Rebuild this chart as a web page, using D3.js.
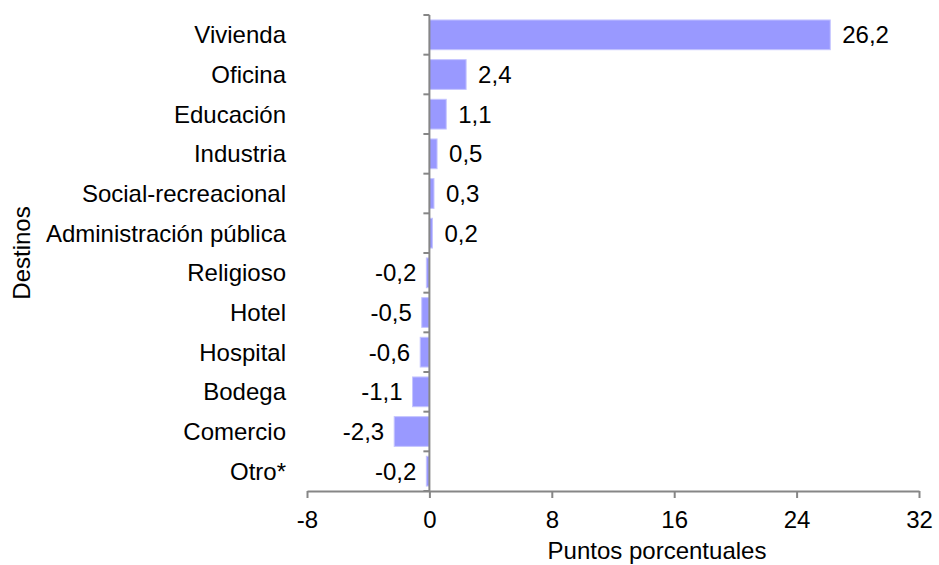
<!DOCTYPE html>
<html>
<head>
<meta charset="utf-8">
<script src="https://cdn.jsdelivr.net/npm/d3@7"></script>
<style>
  html, body { margin: 0; padding: 0; background: #fff; }
  svg { display: block; font-family: "Liberation Sans", Arial, sans-serif; }
</style>
</head>
<body>
<svg id="chart" width="939" height="565"></svg>
<script>
const categories = ["Vivienda", "Oficina", "Educación", "Industria", "Social-recreacional",
  "Administración pública", "Religioso", "Hotel", "Hospital", "Bodega", "Comercio", "Otro*"];
const values = [26.2, 2.4, 1.1, 0.5, 0.3, 0.2, -0.2, -0.5, -0.6, -1.1, -2.3, -0.2];
const xTicks = [-8, 0, 8, 16, 24, 32];
const xTitle = "Puntos porcentuales";
const yTitle = "Destinos";

const svg = d3.select("#chart");
const fs = 24;
const axisColor = "#868686";
const fmt = v => String(v.toFixed(1)).replace(".", ",");

const plotTop = 15, plotBottom = 491;
const x = d3.scaleLinear().domain([-8, 32]).range([307, 919]);
const y = d3.scaleBand().domain(categories).range([plotTop, plotBottom]).paddingInner(0.25).paddingOuter(0.125);

// bars
svg.append("g").selectAll("rect").data(values).join("rect")
  .attr("x", d => x(Math.min(0, d)))
  .attr("width", d => Math.abs(x(d) - x(0)))
  .attr("y", (d, i) => y(categories[i]))
  .attr("height", y.bandwidth())
  .attr("fill", "#9999ff")
  .attr("stroke", "#c4c4ff")
  .attr("stroke-width", 1);

// value labels
svg.append("g").selectAll("text").data(values).join("text")
  .attr("x", d => d >= 0 ? x(d) + 12 : x(d) - 10)
  .attr("y", (d, i) => y(categories[i]) + y.bandwidth() / 2)
  .attr("dy", "0.35em")
  .attr("text-anchor", d => d >= 0 ? "start" : "end")
  .attr("font-size", fs)
  .attr("fill", "#000")
  .text(d => fmt(d));

// category labels
svg.append("g").selectAll("text").data(categories).join("text")
  .attr("x", 286)
  .attr("y", d => y(d) + y.bandwidth() / 2)
  .attr("dy", "0.35em")
  .attr("text-anchor", "end")
  .attr("font-size", fs)
  .attr("fill", "#000")
  .text(d => d);

// y axis line with ticks at band boundaries
const yBounds = d3.range(categories.length + 1).map(i => plotTop + i * y.step());
const ya = svg.append("g");
ya.append("line").attr("x1", x(0)).attr("x2", x(0)).attr("y1", plotTop).attr("y2", plotBottom)
  .attr("stroke", axisColor).attr("stroke-width", 2);
ya.selectAll("line.t").data(yBounds).join("line").attr("class", "t")
  .attr("x1", x(0) - 6).attr("x2", x(0)).attr("y1", d => d).attr("y2", d => d)
  .attr("stroke", axisColor).attr("stroke-width", 2);

// x axis
const xa = svg.append("g").attr("transform", `translate(0,${plotBottom})`)
  .call(d3.axisBottom(x).tickValues(xTicks).tickSize(7).tickSizeOuter(0).tickPadding(13).tickFormat(d => d));
xa.select(".domain").attr("stroke", axisColor).attr("stroke-width", 2);
xa.selectAll(".tick line").attr("stroke", axisColor).attr("stroke-width", 2);
xa.selectAll(".tick text").attr("font-size", fs).attr("fill", "#000")
  .attr("font-family", "Liberation Sans, Arial, sans-serif");

// titles
svg.append("text").attr("x", 657).attr("y", 551).attr("dy", "0.35em")
  .attr("text-anchor", "middle").attr("font-size", fs).text(xTitle);
svg.append("text").attr("transform", "translate(22,253) rotate(-90)").attr("dy", "0.35em")
  .attr("text-anchor", "middle").attr("font-size", fs).text(yTitle);
</script>
</body>
</html>
